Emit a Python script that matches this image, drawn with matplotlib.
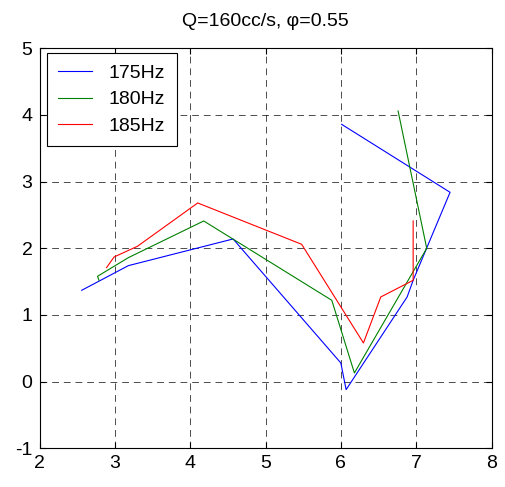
import matplotlib
matplotlib.use("Agg")
import matplotlib.pyplot as plt

plt.rcParams['font.family'] = ['Liberation Sans', 'DejaVu Sans']
plt.rcParams['axes.unicode_minus'] = False

# --- dados ---
x_175 = [2.56, 3.18, 4.57, 6.00, 6.07, 6.88, 6.96, 7.45, 6.01]
y_175 = [1.37, 1.74, 2.14, 0.28, -0.12, 1.27, 1.52, 2.84, 3.86]

x_180 = [2.79, 2.77, 3.18, 4.18, 5.88, 6.18, 7.14, 6.76]
y_180 = [1.52, 1.58, 1.86, 2.41, 1.22, 0.13, 2.00, 4.06]

x_185 = [2.89, 2.99, 3.30, 4.10, 5.48, 6.30, 6.53, 6.96, 6.96]
y_185 = [1.71, 1.87, 2.03, 2.68, 2.06, 0.58, 1.27, 1.52, 2.41]

labels = ['175Hz', '180Hz', '185Hz']
colors = ['#0000ff', '#008000', '#ff0000']
x_ticks = [2, 3, 4, 5, 6, 7, 8]
y_ticks = [-1, 0, 1, 2, 3, 4, 5]

fig = plt.figure(figsize=(5.05, 4.87), dpi=100)
ax = fig.add_axes([39.5 / 505, 38.7 / 487, 452 / 505, 400 / 487])

for xs, ys, lab, c in zip([x_175, x_180, x_185], [y_175, y_180, y_185], labels, colors):
    ax.plot(xs, ys, color=c, linewidth=0.8, label=lab)

ax.set_xlim(2, 8)
ax.set_ylim(-1, 5)
ax.set_xticks(x_ticks)
ax.set_yticks(y_ticks)
ax.tick_params(direction='in', top=True, right=True, labelsize=14, length=4, width=0.8, pad=5)
ax.grid(True, color='black', linestyle=(0, (7, 5)), linewidth=0.7, alpha=0.7)
for s in ax.spines.values():
    s.set_linewidth(0.8)

ax.set_title('Q=160cc/s, φ=0.55', fontsize=14, pad=16)

leg = ax.legend(loc='upper left', bbox_to_anchor=(7.2 / 452, 1 - 4.4 / 400), borderaxespad=0,
                fontsize=14, fancybox=False, framealpha=1, edgecolor='black',
                handlelength=1.75, handletextpad=0.85, labelspacing=0.45, borderpad=0.6)
leg.get_frame().set_linewidth(0.8)

plt.savefig('out.png', dpi=100)
